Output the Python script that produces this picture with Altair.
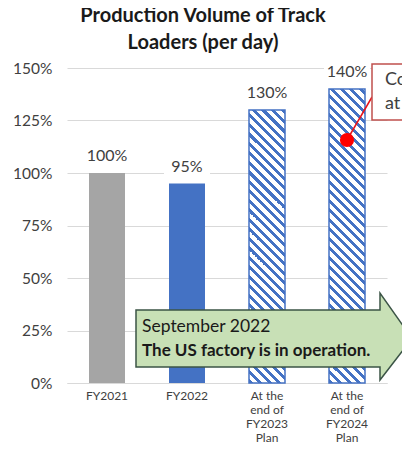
import altair as alt
import pandas as pd

# ---- data ----
categories = ["FY2021", "FY2022", "At the\nend of\nFY2023\nPlan", "At the\nend of\nFY2024\nPlan"]
values = [100, 95, 130, 140]
y_ticks = [0, 25, 50, 75, 100, 125, 150]
title_lines = ["Production Volume of Track", "Loaders (per day)"]
arrow_lines = ["September 2022", "The US factory is in operation."]
callout_text = "Construction\nat Hitachi"

df = pd.DataFrame({"category": categories, "value": values})
df["label"] = df["value"].astype(str) + "%"

# ---- layout / style ----
PLOT_W, PLOT_H = 320, 315
Y_MAX = 150
BAR_W = 36
FONT = "Lato"
BLUE = "#4472c4"
GRAY = "#a5a5a5"
TXT = "#404040"


def hatch(h_px, w_px=BAR_W, period=9.5, frac=0.45, c1=BLUE, c0="#ffffff"):
    L = w_px + h_px
    k = L / (w_px ** 2 + h_px ** 2)
    stops = []
    i = 0
    while i * period < L:
        a = i * period / L
        b = min((i * period + period * frac) / L, 1.0)
        c = min((i + 1) * period / L, 1.0)
        stops += [
            {"offset": a, "color": c1},
            {"offset": b, "color": c1},
            {"offset": b, "color": c0},
            {"offset": c, "color": c0},
        ]
        i += 1
    return {"gradient": "linear", "x1": 0, "y1": 1, "x2": k * w_px, "y2": 1 - k * h_px, "stops": stops}


x_enc = alt.X(
    "category:N",
    sort=categories,
    scale=alt.Scale(paddingInner=0.55, paddingOuter=0.275),
    axis=alt.Axis(
        labelExpr="split(datum.label, '\\n')",
        labelAngle=0,
        ticks=False,
        grid=False,
        domainColor="#d9d9d9",
        labelFontSize=12,
        labelFont=FONT,
        labelColor=TXT,
        labelPadding=7,
        labelLineHeight=14,
        title=None,
    ),
)
y_enc = alt.Y(
    "value:Q",
    scale=alt.Scale(domain=[0, Y_MAX], nice=False),
    axis=alt.Axis(
        values=y_ticks,
        labelExpr="datum.value + '%'",
        ticks=False,
        domain=False,
        gridColor="#d9d9d9",
        labelFontSize=15.5,
        labelFont=FONT,
        labelColor=TXT,
        labelPadding=15,
        title=None,
    ),
)

base = alt.Chart(df).encode(x=x_enc, y=y_enc)

bar_gray = base.mark_bar(color=GRAY).transform_filter(alt.datum.category == categories[0])
bar_blue = base.mark_bar(color=BLUE).transform_filter(alt.datum.category == categories[1])
hatched = []
for cat, v in zip(categories[2:], values[2:]):
    h = v / Y_MAX * PLOT_H
    hatched.append(
        base.mark_bar(fill=hatch(h), stroke=BLUE, strokeWidth=1.5).transform_filter(
            alt.datum.category == cat
        )
    )

label_bg = base.mark_point(
    shape="M-1,-0.42L1,-0.42L1,0.42L-1,0.42Z",
    size=2116,
    filled=True,
    fill="white",
    opacity=1,
    strokeWidth=0,
    yOffset=-17,
)
label_txt = base.mark_text(
    dy=-17, fontSize=16, font=FONT, color=TXT, baseline="middle"
).encode(text="label:N")

one = alt.Data(values=[{"a": 0}])

arrow = alt.Chart(one).mark_point(
    shape="M69,242L313,242L313,225L345,270.5L313,312L313,299L69,299Z",
    size=4,
    filled=True,
    fill="#c8e0b6",
    stroke="#3b5446",
    strokeWidth=1.5,
    opacity=1,
).encode(x=alt.value(0), y=alt.value(0))

arrow_t1 = alt.Chart(one).mark_text(
    align="left", baseline="middle", fontSize=17.5, font=FONT, color="#1a1a1a", text=arrow_lines[0]
).encode(x=alt.value(75), y=alt.value(259))
arrow_t2 = alt.Chart(one).mark_text(
    align="left", baseline="middle", fontSize=17, font=FONT, fontWeight="bold", color="#1a1a1a", text=arrow_lines[1]
).encode(x=alt.value(75), y=alt.value(283))

call_line = alt.Chart(one).mark_rule(color="#e8141a", strokeWidth=1.5).encode(
    x=alt.value(305), y=alt.value(29), x2=alt.value(280), y2=alt.value(72)
)
call_dot = alt.Chart(one).mark_point(
    filled=True, size=200, color="#ff0000", opacity=1, shape="circle"
).encode(x=alt.value(280), y=alt.value(72))
call_box = alt.Chart(one).mark_rect(fill="white", stroke="#c0504d", strokeWidth=1.5).encode(
    x=alt.value(305), x2=alt.value(440), y=alt.value(-4), y2=alt.value(52)
)
call_txt = alt.Chart(one).mark_text(
    align="left", baseline="middle", fontSize=18, font=FONT, color=TXT,
    lineBreak="\n", lineHeight=24, text=callout_text
).encode(x=alt.value(318), y=alt.value(12))

chart = alt.layer(
    bar_gray, bar_blue, *hatched, label_bg, label_txt,
    arrow, arrow_t1, arrow_t2, call_line, call_dot, call_box, call_txt,
).properties(
    width=PLOT_W,
    height=PLOT_H,
    title=alt.TitleParams(
        title_lines,
        fontSize=20,
        font=FONT,
        fontWeight="bold",
        color="#1a1a1a",
        lineHeight=27,
        anchor="middle",
        dx=-24,
        offset=8,
    ),
    autosize=alt.AutoSizeParams(type="none"),
    padding={"left": 59, "top": 60, "right": 15, "bottom": 62},
).configure_view(strokeWidth=0)

chart.save("out.html", embed_options={"renderer": "svg", "actions": False})
